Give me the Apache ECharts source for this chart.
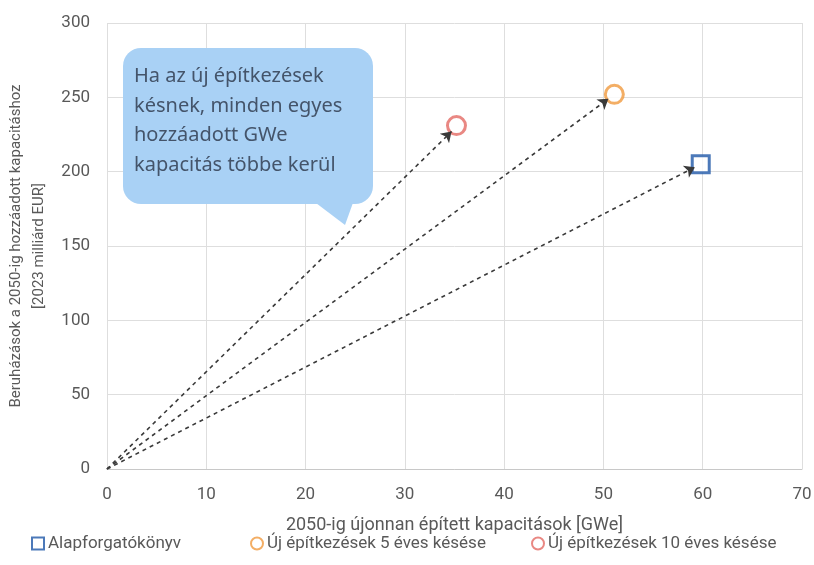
<!DOCTYPE html>
<html>
<head>
<meta charset="utf-8">
<script src="https://cdn.jsdelivr.net/npm/echarts@6/dist/echarts.min.js"></script>
<style>
  html, body { margin: 0; padding: 0; background: #fff; }
  #main { width: 814px; height: 565px; }
</style>
</head>
<body>
<div id="main"></div>
<script>
// forgatókönyvek (sorrend: alap, 5 év késés, 10 év késés)
var scenarioNames = ['Alapforgatókönyv', 'Új építkezések 5 éves késése', 'Új építkezések 10 éves késése'];
var capacity = [59.8, 51.1, 35.2];      // GWe
var investment = [205, 252, 231];       // milliárd EUR
// a nyilak végpontjai (a jelölők széléig érnek)
var arrowEndX = [59.2, 50.5, 34.7];
var arrowEndY = [203, 249, 227];
var scenarioColors = ['#1f58a8', '#f09a3e', '#e46a64'];
var scenarioSymbols = ['rect', 'circle', 'circle'];

var xTicks = [0, 10, 20, 30, 40, 50, 60, 70];
var yTicks = [0, 50, 100, 150, 200, 250, 300];

var bubbleLines = ['Ha az új építkezések', 'késnek, minden egyes', 'hozzáadott GWe', 'kapacitás többe kerül'];

var chart = echarts.init(document.getElementById('main'));

var series = [];
for (var i = 0; i < scenarioNames.length; i++) {
  series.push({
    name: scenarioNames[i],
    type: 'scatter',
    symbol: scenarioSymbols[i],
    symbolSize: scenarioSymbols[i] === 'rect' ? 17 : 18,
    z: 3,
    itemStyle: { color: '#fff', borderColor: scenarioColors[i], borderWidth: 3 },
    data: [[capacity[i], investment[i]]]
  });
}

// szaggatott nyilak az origótól
var arrowData = [];
for (var j = 0; j < arrowEndX.length; j++) {
  arrowData.push({ coords: [[0, 0], [arrowEndX[j], arrowEndY[j]]] });
}
series.push({
  type: 'lines',
  coordinateSystem: 'cartesian2d',
  symbol: ['none', 'arrow'],
  symbolSize: 10,
  z: 4,
  silent: true,
  lineStyle: { color: '#3a3a3a', width: 1.6, type: [4, 4], opacity: 1 },
  data: arrowData
});

// három külön jelmagyarázat, hogy a helyük egyezzen
var legendLeft = [26, 245, 526];
var legends = [];
for (var k = 0; k < scenarioNames.length; k++) {
  legends.push({
    data: [scenarioNames[k]],
    left: legendLeft[k],
    bottom: 8,
    itemWidth: 12,
    itemHeight: 12,
    itemGap: 0,
    textStyle: { color: '#595959', fontSize: 17, padding: [0, 0, 0, -1] }
  });
}

var option = {
  animation: false,
  textStyle: { fontFamily: 'Roboto' },
  grid: { left: 107, right: 12, top: 23, bottom: 96, outerBoundsMode: 'none' },
  xAxis: {
    type: 'value',
    min: xTicks[0],
    max: xTicks[xTicks.length - 1],
    interval: 10,
    name: '2050-ig újonnan épített kapacitások [GWe]',
    nameLocation: 'middle',
    nameGap: 47,
    nameTextStyle: { color: '#595959', fontSize: 18 },
    axisLine: { lineStyle: { color: '#c8c8c8' } },
    axisTick: { show: false },
    axisLabel: { color: '#595959', fontSize: 17, margin: 17 },
    splitLine: { lineStyle: { color: '#dedede' } }
  },
  yAxis: {
    type: 'value',
    min: yTicks[0],
    max: yTicks[yTicks.length - 1],
    interval: 50,
    name: 'Beruházások a 2050-ig hozzáadott kapacitáshoz\n[2023 milliárd EUR]',
    nameLocation: 'middle',
    nameRotate: 90,
    nameGap: 50,
    nameTextStyle: { color: '#595959', fontSize: 15, lineHeight: 23 },
    axisLine: { show: false },
    axisTick: { show: false },
    axisLabel: { color: '#595959', fontSize: 17, margin: 17 },
    splitLine: { lineStyle: { color: '#dedede' } }
  },
  legend: legends,
  graphic: [
    {
      type: 'rect',
      z: 100,
      shape: { x: 123, y: 48, width: 250, height: 156, r: 18 },
      style: { fill: '#a9d1f5' }
    },
    {
      type: 'polygon',
      z: 100,
      shape: { points: [[312, 200], [345, 225], [354, 200]] },
      style: { fill: '#a9d1f5' }
    },
    {
      type: 'text',
      z: 101,
      x: 134,
      y: 62,
      style: {
        text: bubbleLines.join('\n'),
        fill: '#44546a',
        font: '20px "Noto Sans"',
        lineHeight: 29.5
      }
    }
  ],
  series: series
};

chart.setOption(option);
</script>
</body>
</html>
